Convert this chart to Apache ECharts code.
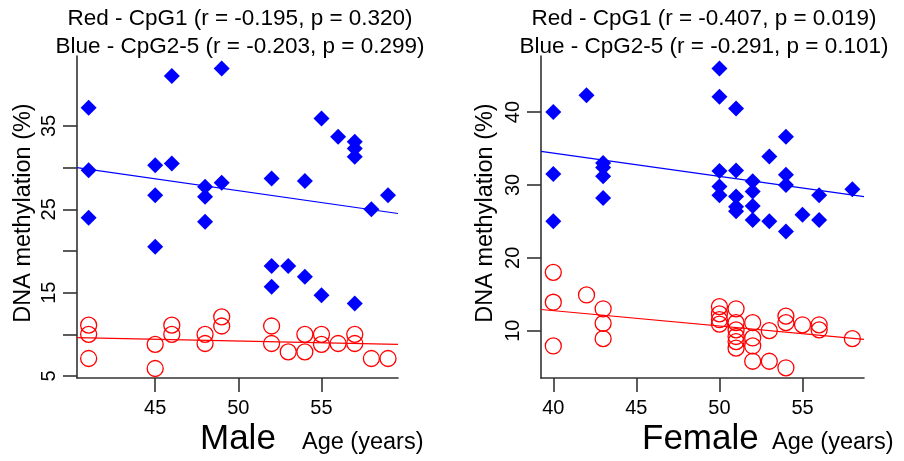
<!DOCTYPE html>
<html>
<head>
<meta charset="utf-8">
<script src="https://cdn.jsdelivr.net/npm/echarts@6/dist/echarts.min.js"></script>
<style>
  html, body { margin: 0; padding: 0; background: #fff; }
  #chart { width: 904px; height: 461px; }
</style>
</head>
<body>
<div id="chart"></div>
<script>
// male, blue diamonds (CpG2-5)
const maleBlueAge = [41, 46, 49, 41, 45, 46, 48, 48, 49, 45, 41, 48, 45, 55, 56, 57, 57, 57, 52, 54, 59, 58, 52, 53, 54, 52, 55, 57]
const maleBlueMeth = [37.2, 41.0, 41.9, 29.7, 30.3, 30.5, 27.7, 26.5, 28.2, 26.7, 24.0, 23.5, 20.5, 35.9, 33.7, 33.1, 32.3, 31.3, 28.7, 28.4, 26.7, 25.0, 18.2, 18.2, 16.9, 15.7, 14.7, 13.7]
// male, red circles (CpG1)
const maleRedAge = [41, 41, 41, 45, 45, 46, 46, 48, 48, 49, 49, 52, 52, 53, 54, 54, 55, 55, 56, 57, 57, 58, 59]
const maleRedMeth = [11.1, 10.0, 7.1, 8.8, 5.9, 11.1, 10.0, 10.0, 8.9, 12.1, 11.0, 11.0, 8.9, 7.9, 10.0, 7.9, 10.0, 8.8, 8.9, 10.0, 8.9, 7.1, 7.1]
// male fit lines (endpoints)
const maleBlueFit = [[40.3, 30.0], [59.6, 24.5]]
const maleRedFit = [[40.3, 9.6], [59.6, 8.8]]

// female, blue diamonds
const femaleBlueAge = [40, 42, 40, 40, 43, 43, 43, 43, 50, 50, 51, 54, 53, 50, 51, 50, 50, 51, 52, 52, 51, 51, 52, 52, 53, 54, 54, 54, 55, 56, 56, 58]
const femaleBlueMeth = [40.0, 42.3, 31.5, 25.0, 33.0, 32.4, 31.2, 28.2, 46.0, 42.1, 40.5, 36.6, 33.9, 31.9, 32.0, 29.8, 28.6, 28.4, 30.5, 29.1, 27.0, 26.4, 27.1, 25.2, 25.0, 23.6, 31.4, 30.0, 25.9, 28.6, 25.2, 29.4]
// female, red circles
const femaleRedAge = [40, 40, 40, 42, 43, 43, 43, 50, 50, 50, 50, 51, 51, 51, 51, 51, 51, 52, 52, 52, 52, 53, 53, 54, 54, 54, 55, 56, 56, 58]
const femaleRedMeth = [18.0, 13.9, 7.9, 14.9, 13.0, 11.0, 8.9, 13.3, 12.3, 11.5, 10.9, 13.0, 11.1, 10.1, 9.2, 8.5, 7.6, 11.1, 9.0, 7.9, 5.8, 10.0, 5.8, 12.0, 11.1, 4.9, 10.8, 10.8, 10.1, 8.9]
const femaleBlueFit = [[39.26, 34.6], [58.7, 28.4]]
const femaleRedFit = [[39.26, 12.9], [58.7, 8.8]]

// ticks
const maleXTicks = [45, 50, 55]
const maleYTicks = [5, 10, 15, 20, 25, 30, 35]
const maleYLabels = [5, 15, 25, 35]
const femaleXTicks = [40, 45, 50, 55]
const femaleYTicks = [10, 20, 30, 40]

const maleTitle = 'Red - CpG1 (r = -0.195, p = 0.320)\nBlue - CpG2-5 (r = -0.203, p = 0.299)'
const femaleTitle = 'Red - CpG1 (r = -0.407, p = 0.019)\nBlue - CpG2-5 (r = -0.291, p = 0.101)'

const FONT = 'Liberation Sans, Arial, sans-serif'
const BLUE = '#0000ff'
const RED = '#ff0000'
const AXIS = '#333333'

const zip = (xs, ys) => xs.map((x, i) => [x, ys[i]])

function xAxis(gridIndex, min, max, ticks) {
  return {
    type: 'value',
    gridIndex,
    min,
    max,
    splitLine: { show: false },
    axisLine: { onZero: false, lineStyle: { color: AXIS, width: 1.6 } },
    axisTick: { length: 14, customValues: ticks, lineStyle: { color: AXIS, width: 1.6 } },
    axisLabel: { customValues: ticks, margin: 20, color: '#000', fontSize: 20, fontFamily: FONT },
  }
}

function yAxis(gridIndex, min, max, ticks, labels) {
  return {
    type: 'value',
    gridIndex,
    min,
    max,
    splitLine: { show: false },
    axisLine: { onZero: false, lineStyle: { color: AXIS, width: 1.6 } },
    axisTick: { length: 14, customValues: ticks, lineStyle: { color: AXIS, width: 1.6 } },
    axisLabel: { customValues: labels, rotate: 90, margin: 18, color: '#000', fontSize: 20, fontFamily: FONT },
  }
}

function diamonds(i, data) {
  return {
    type: 'scatter', xAxisIndex: i, yAxisIndex: i, data,
    symbol: 'diamond', symbolSize: 16,
    itemStyle: { color: BLUE, opacity: 1 },
  }
}

function circles(i, data) {
  return {
    type: 'scatter', xAxisIndex: i, yAxisIndex: i, data,
    symbol: 'circle', symbolSize: 16,
    itemStyle: { color: 'rgba(0,0,0,0)', borderColor: RED, borderWidth: 1.3, opacity: 1 },
  }
}

function fit(i, data, color) {
  return {
    type: 'line', xAxisIndex: i, yAxisIndex: i, data,
    symbol: 'none', silent: true,
    lineStyle: { color, width: 1.2 },
  }
}

function text(x, y, str, size, rotation) {
  return {
    type: 'text',
    x, y,
    rotation: rotation || 0,
    style: {
      text: str,
      font: size + 'px ' + FONT,
      fill: '#000',
      align: rotation ? 'center' : 'left',
      verticalAlign: 'middle',
    },
  }
}

const chart = echarts.init(document.getElementById('chart'))

const titleStyle = { fontSize: 22.5, lineHeight: 28, fontWeight: 'normal', color: '#000', fontFamily: FONT }

chart.setOption({
  animation: false,
  title: [
    { text: maleTitle, left: 240, top: 5, textAlign: 'center', textStyle: titleStyle, padding: 0 },
    { text: femaleTitle, left: 704, top: 5, textAlign: 'center', textStyle: titleStyle, padding: 0 },
  ],
  grid: [
    { left: 77, top: 56, width: 321, height: 322 },
    { left: 541, top: 56, width: 323, height: 322 },
  ],
  xAxis: [
    xAxis(0, 40.3, 59.6, maleXTicks),
    xAxis(1, 39.26, 58.7, femaleXTicks),
  ],
  yAxis: [
    yAxis(0, 4.76, 43.4, maleYTicks, maleYLabels),
    yAxis(1, 3.5, 47.7, femaleYTicks, femaleYTicks),
  ],
  series: [
    fit(0, maleBlueFit, BLUE),
    fit(0, maleRedFit, RED),
    diamonds(0, zip(maleBlueAge, maleBlueMeth)),
    circles(0, zip(maleRedAge, maleRedMeth)),
    fit(1, femaleBlueFit, BLUE),
    fit(1, femaleRedFit, RED),
    diamonds(1, zip(femaleBlueAge, femaleBlueMeth)),
    circles(1, zip(femaleRedAge, femaleRedMeth)),
  ],
  graphic: [
    text(24, 213, 'DNA methylation (%)', 23.5, Math.PI / 2),
    text(486, 213, 'DNA methylation (%)', 23.5, Math.PI / 2),
    text(200, 439, 'Male', 35),
    text(302, 443, 'Age (years)', 23.5),
    text(642, 439, 'Female', 35),
    text(772, 443, 'Age (years)', 23.5),
  ],
})
</script>
</body>
</html>
